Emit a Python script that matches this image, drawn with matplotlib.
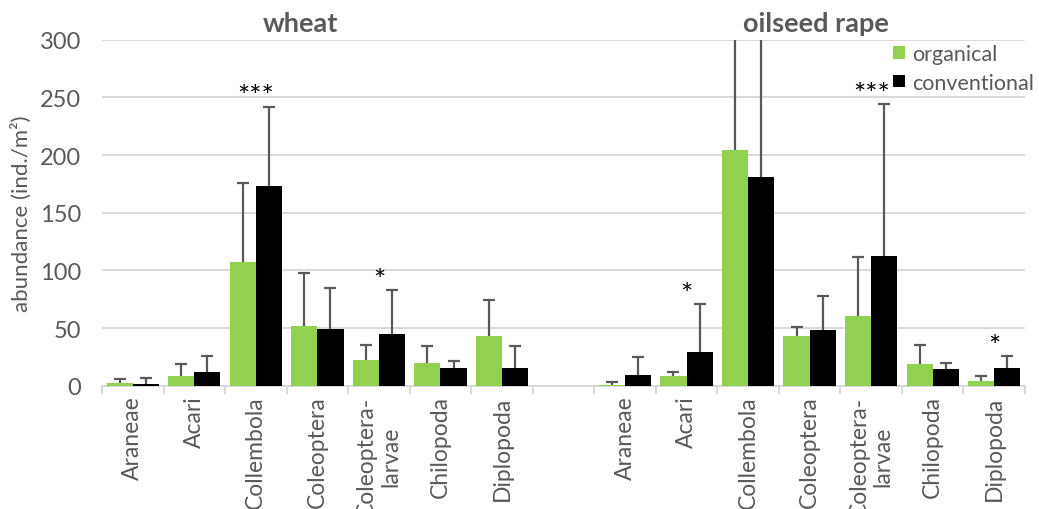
import numpy as np
import matplotlib
matplotlib.use("Agg")
import matplotlib.pyplot as plt
from matplotlib.ticker import FixedLocator, MultipleLocator

plt.rcParams["font.family"] = ["Lato", "DejaVu Sans"]

GREEN = "#92D050"
BLACK = "#000000"
GREY_TEXT = "#595959"
GRID = "#D9D9D9"

taxa = ["Araneae", "Acari", "Collembola", "Coleoptera",
        "Coleoptera-\nlarvae", "Chilopoda", "Diplopoda"]

# mean abundance and upper end of the error bar (ind./m²)
wheat_org = [2.5, 8, 107, 52, 22.5, 20, 43]
wheat_org_top = [6, 18.5, 176, 98, 35.5, 34, 74]
wheat_con = [1.5, 11.5, 173.5, 49.5, 45, 15, 15]
wheat_con_top = [6.5, 25.5, 242, 85, 83, 21, 34]

rape_org = [1, 8.5, 204.5, 43, 60.5, 19, 4]
rape_org_top = [3, 11.5, 340, 51, 111.5, 35, 8]
rape_con = [9.5, 29.5, 181, 48.5, 112.5, 14.5, 15.5]
rape_con_top = [24.5, 71, 330, 78, 244.5, 20, 26]

wheat_sig = ["", "", "***", "", "*", "", ""]
rape_sig = ["", "*", "", "", "***", "", "*"]

# one empty slot between the two crops
n = len(taxa)
x_wheat = np.arange(n)
x_rape = np.arange(n) + n + 1
x_all = np.concatenate([x_wheat, x_rape])

org = np.array(wheat_org + rape_org)
con = np.array(wheat_con + rape_con)
org_top = np.array(wheat_org_top + rape_org_top)
con_top = np.array(wheat_con_top + rape_con_top)
sig = wheat_sig + rape_sig

fig = plt.figure(figsize=(10.39, 5.10), dpi=100)
ax = fig.add_axes([102 / 1039, 1 - 386.7 / 510, 923 / 1039, 346 / 510])

w = 0.425
ax.bar(x_all - w / 2, org, w, color=GREEN, label="organical", zorder=3)
ax.bar(x_all + w / 2, con, w, color=BLACK, label="conventional", zorder=3)

# upper-only error bars: stem from bar top, cap at the end
for xs, lo, hi in ((x_all - w / 2, org, org_top), (x_all + w / 2, con, con_top)):
    ax.vlines(xs, lo, hi, color=GREY_TEXT, linewidth=1.6, zorder=4)
    ax.plot(xs, hi, linestyle="none", marker="_", markersize=8,
            markeredgewidth=1.6, color=GREY_TEXT, zorder=4)

for xi, s, t1, t2 in zip(x_all, sig, org_top, con_top):
    if s:
        ax.text(xi, max(t1, t2) + 1, s, ha="center", va="baseline",
                fontsize=21, color=BLACK, zorder=5)

ax.set_xlim(-0.5, 2 * n + 0.5)
ax.set_ylim(0, 300)
ax.yaxis.set_major_locator(MultipleLocator(50))
ax.grid(axis="y", color=GRID, linewidth=1.4, zorder=0)

ax.set_xticks(x_all)
ax.set_xticklabels(taxa + taxa, rotation=90, ha="center", va="top",
                   multialignment="center")
ax.xaxis.set_minor_locator(FixedLocator(np.arange(-0.5, 2 * n + 1, 1.0)))
ax.tick_params(axis="x", which="major", length=0, pad=7,
               labelsize=16.5, labelcolor=GREY_TEXT)
ax.tick_params(axis="x", which="minor", length=6, width=1.4, color=GRID)
ax.tick_params(axis="y", length=0, pad=15, labelsize=17,
               labelcolor=GREY_TEXT)

for side in ("top", "right", "left"):
    ax.spines[side].set_visible(False)
ax.spines["bottom"].set_color(GRID)
ax.spines["bottom"].set_linewidth(1.4)

ax.set_ylabel("abundance (ind./m²)", fontsize=16, color=GREY_TEXT,
              labelpad=6)

fig.text(300 / 1039, 1 - 24 / 510, "wheat", ha="center", va="center",
         fontsize=19.5, fontweight="bold", color=GREY_TEXT)
fig.text(816 / 1039, 1 - 24 / 510, "oilseed rape", ha="center",
         va="center", fontsize=19.5, fontweight="bold", color=GREY_TEXT)

fig.legend(loc="upper left", bbox_to_anchor=(893 / 1039, 1 - 45 / 510),
           frameon=False, fontsize=15.5, labelcolor=GREY_TEXT,
           handlelength=0.55, handleheight=0.55, handletextpad=0.35,
           labelspacing=0.4, borderpad=0, borderaxespad=0)

fig.savefig("out.png", dpi=100)
